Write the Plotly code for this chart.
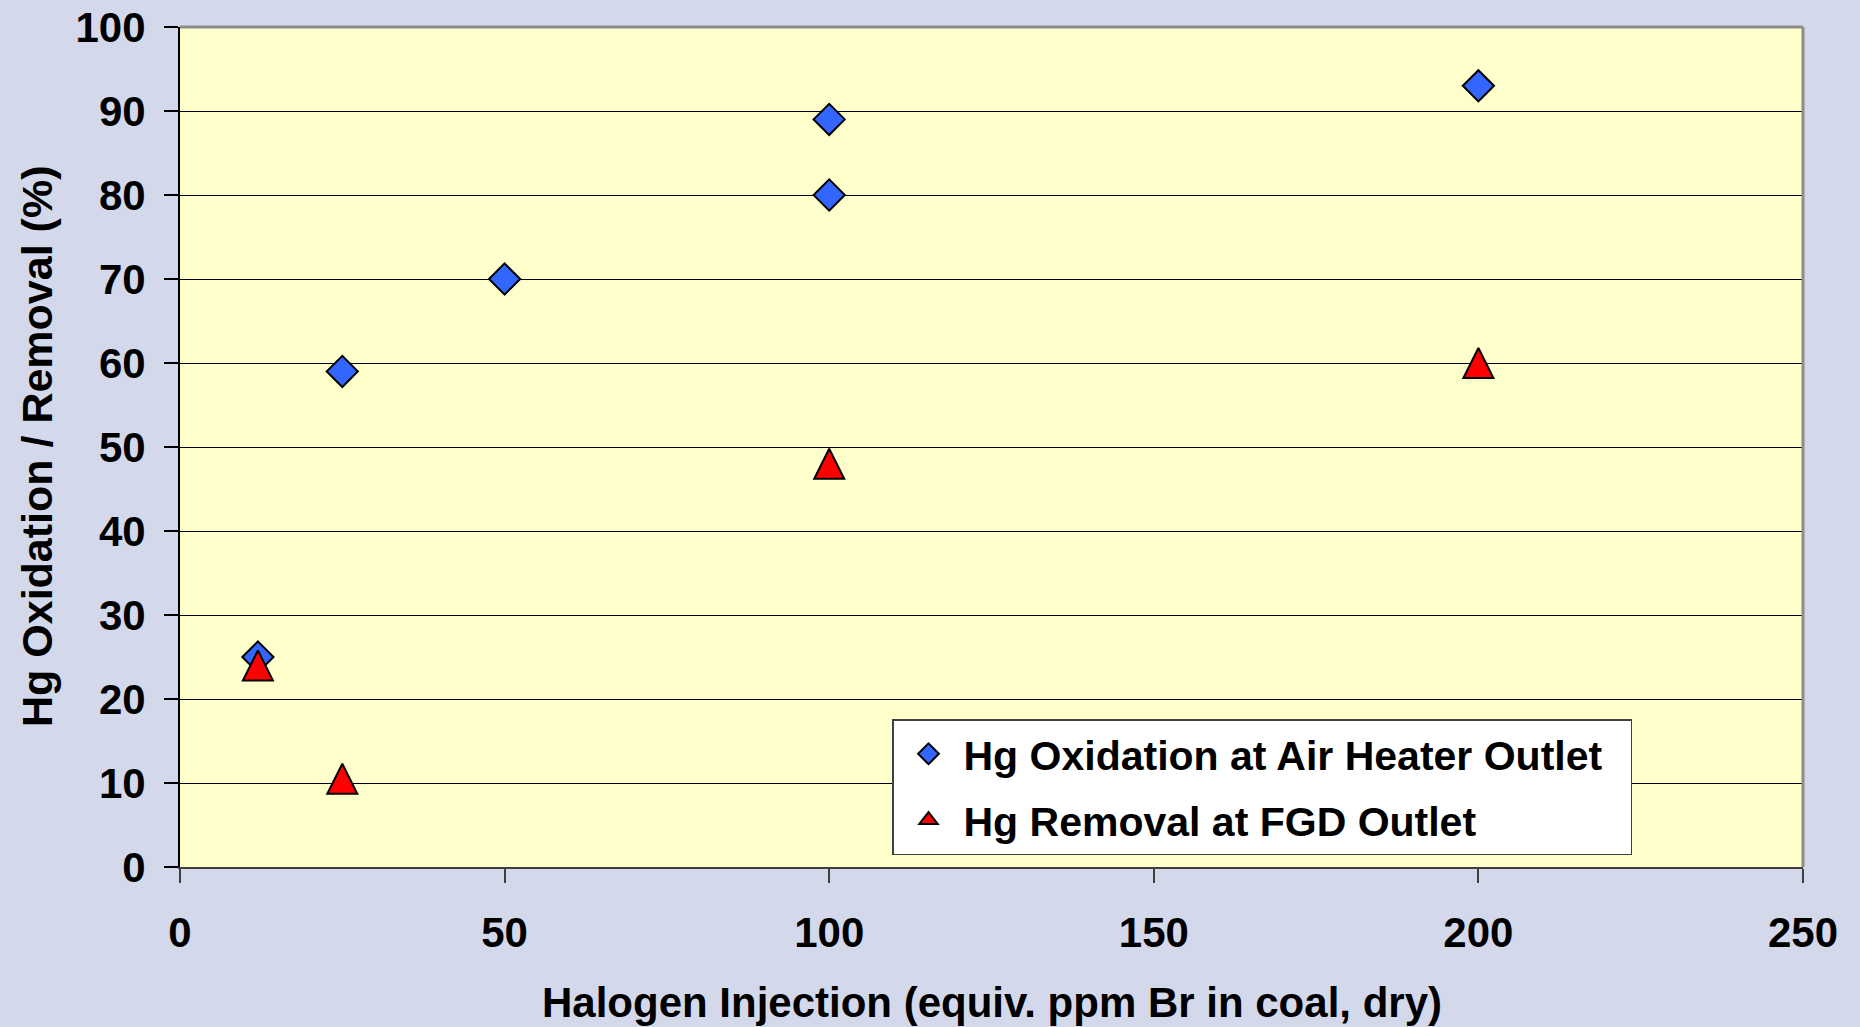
import plotly.graph_objects as go

# Hg oxidation measured at the air heater outlet
injection_oxidation = [12, 25, 50, 100, 100, 200]
oxidation_pct = [25, 59, 70, 89, 80, 93]

# Hg removal measured at the FGD outlet
injection_removal = [12, 25, 100, 200]
removal_pct = [24, 10.5, 48, 60]

x_ticks = [0, 50, 100, 150, 200, 250]
y_ticks = [0, 10, 20, 30, 40, 50, 60, 70, 80, 90, 100]

series_names = ["Hg Oxidation at Air Heater Outlet", "Hg Removal at FGD Outlet"]
x_title = "Halogen Injection (equiv. ppm Br in coal, dry)"
y_title = "Hg Oxidation / Removal (%)"

WIDTH, HEIGHT = 1860, 1027
MARGIN = dict(l=180, r=57, t=27, b=160)
PLOT_H = HEIGHT - MARGIN["t"] - MARGIN["b"]

BOLD = "Liberation Sans, Arial, sans-serif"
# extra right-hand room inside the legend box
LEGEND_PAD = "\u00a0\u00a0"

DIAMOND_SIZE = 24
TRI_SIZE = 30
# arrow-up markers hang below their anchor point; a shifted overlay axis
# centres the triangle on its value
tri_shift = (TRI_SIZE / 2) * (y_ticks[-1] - y_ticks[0]) / PLOT_H

fig = go.Figure()

fig.add_trace(go.Scatter(
    x=injection_oxidation, y=oxidation_pct, mode="markers",
    name=series_names[0] + LEGEND_PAD, legendgroup="ox",
    marker=dict(symbol="diamond", size=DIAMOND_SIZE, color="#3366FF",
                line=dict(color="black", width=2)),
))

fig.add_trace(go.Scatter(
    x=injection_removal, y=removal_pct, mode="markers", yaxis="y2",
    name=series_names[1], legendgroup="rm", showlegend=False,
    marker=dict(symbol="arrow-up", size=TRI_SIZE, color="#FF0000",
                line=dict(color="black", width=2)),
))

# legend entry for the removal series
fig.add_trace(go.Scatter(
    x=[None], y=[None], mode="markers",
    name=series_names[1], legendgroup="rm",
    marker=dict(symbol="triangle-up", size=16, color="#FF0000",
                line=dict(color="black", width=2)),
))

tick_font = dict(family=BOLD, size=42, color="black", weight="bold")

fig.update_layout(
    width=WIDTH, height=HEIGHT,
    margin=dict(**MARGIN, pad=0, autoexpand=False),
    paper_bgcolor="#D3D8EB",
    plot_bgcolor="#FFFFCC",
    showlegend=True,
    xaxis=dict(
        range=[x_ticks[0], x_ticks[-1]], tickvals=x_ticks,
        ticks="outside", ticklen=14, tickwidth=1.5, tickcolor="#404040",
        showline=True, linecolor="#404040", linewidth=2,
        showgrid=False, zeroline=False, automargin=False,
        tickfont=tick_font, ticklabelstandoff=14,
        fixedrange=True,
    ),
    yaxis=dict(
        range=[y_ticks[0], y_ticks[-1]], tickvals=y_ticks,
        ticks="outside", ticklen=14, tickwidth=1.5, tickcolor="black",
        showline=True, linecolor="black", linewidth=2,
        showgrid=True, gridcolor="black", gridwidth=1,
        zeroline=False, automargin=False,
        tickfont=tick_font, ticklabelstandoff=10,
        fixedrange=True,
    ),
    yaxis2=dict(
        range=[y_ticks[0] - tri_shift, y_ticks[-1] - tri_shift],
        overlaying="y", visible=False, fixedrange=True, automargin=False,
    ),
    legend=dict(
        x=0.4387, y=0.176, xanchor="left", yanchor="top",
        bgcolor="white", bordercolor="#404040", borderwidth=1.5,
        font=dict(family=BOLD, size=41, color="black", weight="bold"),
        traceorder="grouped", tracegroupgap=10, itemwidth=60,
    ),
    shapes=[
        dict(type="line", xref="paper", yref="paper", x0=0, x1=1, y0=1, y1=1,
             line=dict(color="#8C8C8C", width=3)),
        dict(type="line", xref="paper", yref="paper", x0=1, x1=1, y0=0, y1=1,
             line=dict(color="#8C8C8C", width=3)),
    ],
    annotations=[
        dict(text=x_title, xref="paper", yref="paper", x=0.5, y=0,
             xanchor="center", yanchor="middle", yshift=-135, showarrow=False,
             font=dict(family=BOLD, size=42, color="black", weight="bold")),
        dict(text=y_title, xref="paper", yref="paper", x=0, y=0.5,
             xanchor="center", yanchor="middle", xshift=-143, textangle=-90,
             showarrow=False,
             font=dict(family=BOLD, size=43, color="black", weight="bold")),
    ],
)

fig.write_html("out.html")
